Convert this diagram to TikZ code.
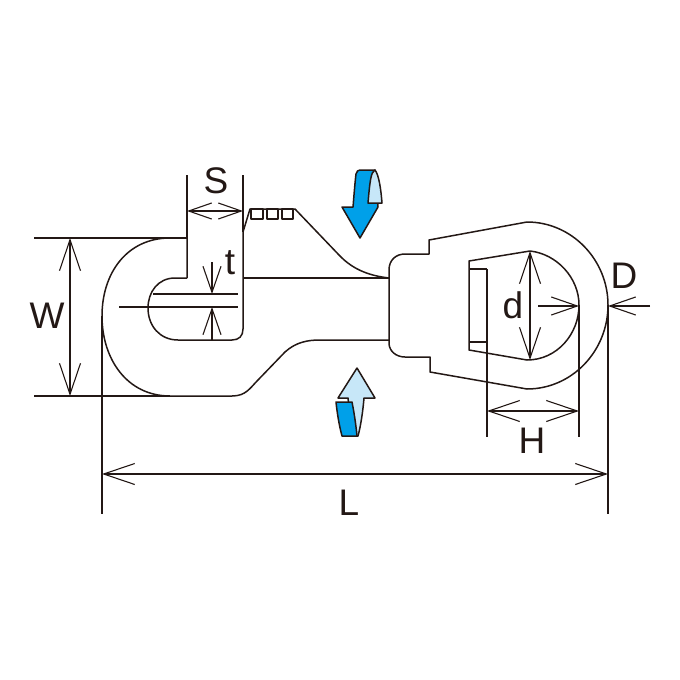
\documentclass[tikz,border=0pt]{standalone}
\usepackage{fontspec}
\setmainfont{Liberation Sans}
\usetikzlibrary{arrows.meta}
\definecolor{inkdark}{HTML}{231815}
\definecolor{flowblue}{HTML}{00A0E9}
\definecolor{flowlight}{HTML}{C7E7F8}
\tikzset{
outline/.style={draw=inkdark,line width=1.5pt,line join=round},
dimline/.style={draw=inkdark,line width=1.1pt},
dimarrow/.style={dimline,{Straight Barb[length=31pt,width=21pt,line width=1.1pt]}-{Straight Barb[length=31pt,width=21pt,line width=1.1pt]}},
shortarrow/.style={dimline,{Straight Barb[length=23pt,width=16pt,line width=1.1pt]}-{Straight Barb[length=23pt,width=16pt,line width=1.1pt]}},
endarrow/.style={dimline,-{Straight Barb[length=26pt,width=18pt,line width=1.1pt]}},
label/.style={text=inkdark,font=\fontsize{37}{37}\selectfont,inner sep=0pt},
}
\begin{document}
\begin{tikzpicture}[x=1pt,y=-1pt]
   \useasboundingbox (0,0) rectangle (680,680);
   % hook body
   \draw[outline] (187,278) -- (187,238) -- (170,238) .. controls (127,238) and (102,273) .. (102,316)
     .. controls (102,359) and (127,396) .. (170,396) -- (232,396)
     .. controls (246,396) and (250,388) .. (258,380) -- (285,352)
     .. controls (296,342) and (308,340) .. (320,340) -- (389,340);
   \draw[outline] (187,278) -- (175,278) .. controls (158,278) and (148,292) .. (148,308)
     .. controls (148,326) and (160,340) .. (178,340) -- (232,340)
     .. controls (239,340) and (243,336) .. (243,329) -- (243,232);
   \draw[outline] (243,278) -- (389,278);
   % gate
   \draw[outline] (243,232) -- (250,209) -- (295,209) -- (339,255)
     .. controls (354,271) and (372,276) .. (389,278);
   \draw[outline] (251,209) rectangle (263,219);
   \draw[outline] (267,209) rectangle (278,219);
   \draw[outline] (282,209) rectangle (293,219);
   % swivel eye
   \draw[outline] (389,343) -- (389,270) .. controls (389,260) and (396,254) .. (405,254)
     -- (429,254) -- (429,240) -- (527,222)
     .. controls (572,222) and (608,260) .. (608,305)
     .. controls (608,351) and (572,389) .. (527,389) -- (430,372) -- (430,357) -- (405,357)
     .. controls (396,357) and (389,351) .. (389,343) -- cycle;
   \draw[outline] (469,261) -- (530,251) .. controls (557,254) and (579,278) .. (579,305)
     .. controls (579,334) and (557,360) .. (527,360) -- (469,350) -- cycle;
   \draw[outline] (469,269) -- (487,269);
   \draw[dimline] (469,342) -- (487,342);
   % turning arrows
   \draw[outline,fill=flowblue] (360,238) -- (342,207) -- (353,207)
     .. controls (354,195) and (355,182) .. (356,174) .. controls (357,171) and (358,170) .. (360,170)
     -- (375,170) -- (378,207) -- cycle;
   \draw[outline,fill=flowlight] (375,170) .. controls (371,172) and (370,180) .. (368,203)
     -- (382,203) .. controls (381,190) and (379,175) .. (375,170) -- cycle;
   \draw[outline,fill=flowlight] (357,368) -- (338,398) -- (348,398) -- (352,436) -- (358,436)
     .. controls (361,425) and (363,410) .. (364,398) -- (375,398) -- cycle;
   \draw[outline,fill=flowblue] (336,402) -- (352,402) .. controls (354,412) and (356,425) .. (357,436)
     -- (342,436) .. controls (339,425) and (337,412) .. (336,402) -- cycle;
   % dimension coordinates
   \coordinate (w_top) at (70,238);
   \coordinate (w_bot) at (70,396);
   \coordinate (s_left) at (187,211);
   \coordinate (s_right) at (243,211);
   \coordinate (h_left) at (487,411);
   \coordinate (h_right) at (579,411);
   \coordinate (l_left) at (102,474);
   \coordinate (l_right) at (608,474);
   \coordinate (d_top) at (530,251);
   \coordinate (d_bot) at (530,360);
   % extension lines
   \draw[dimline] (34,238) -- (187,238);
   \draw[dimline] (34,396) -- (170,396);
   \draw[dimline] (187,175) -- (187,238);
   \draw[dimline] (243,175) -- (243,232);
   \draw[dimline] (102,316) -- (102,514);
   \draw[dimline] (608,305) -- (608,514);
   \draw[dimline] (487,269) -- (487,437);
   \draw[dimline] (579,305) -- (579,437);
   \draw[dimline] (153,294) -- (238,294);
   \draw[dimline] (119,307) -- (238,307);
   % dimension arrows
   \draw[dimarrow] (w_top) -- (w_bot);
   \draw[shortarrow] (s_left) -- (s_right);
   \draw[dimarrow] (h_left) -- (h_right);
   \draw[dimarrow] (l_left) -- (l_right);
   \draw[dimarrow] (d_top) -- (d_bot);
   \coordinate (t_up) at (212,262);
   \coordinate (t_a) at (212,294);
   \coordinate (t_down) at (212,340);
   \coordinate (t_b) at (212,307);
   \coordinate (dd_in) at (538,306);
   \coordinate (dd_a) at (579,306);
   \coordinate (dd_out) at (650,306);
   \coordinate (dd_b) at (608,306);
   \draw[endarrow] (t_up) -- (t_a);
   \draw[endarrow] (t_down) -- (t_b);
   \draw[endarrow] (dd_in) -- (dd_a);
   \draw[endarrow] (dd_out) -- (dd_b);
   % labels
   \node[label] (lab_w) at (47,316) {W};
   \node[label] (lab_s) at (216,181) {S};
   \node[label] (lab_t) at (230,263) {t};
   \node[label] (lab_dd) at (513,305) {d};
   \node[label] (lab_h) at (532,441) {H};
   \node[label] (lab_d) at (624,276) {D};
   \node[label] (lab_l) at (349,503) {L};
\end{tikzpicture}
\end{document}
